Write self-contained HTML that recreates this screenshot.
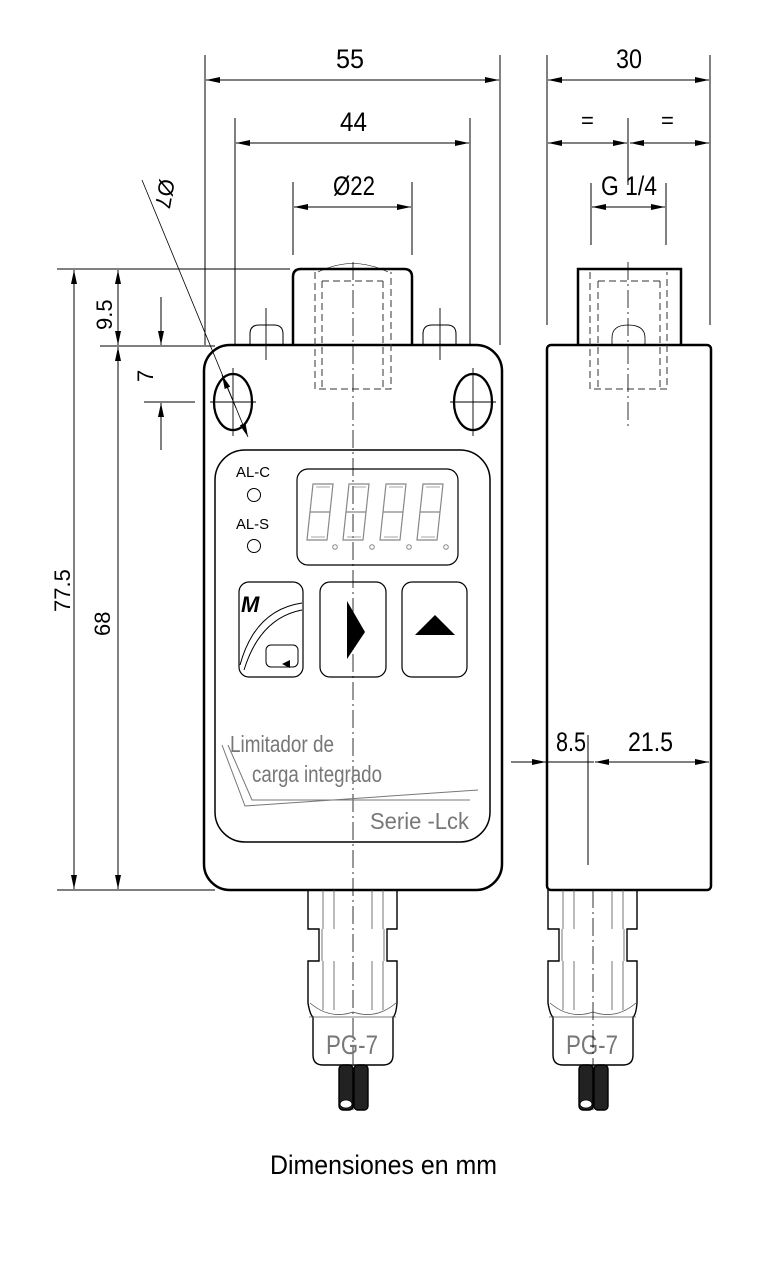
<!DOCTYPE html>
<html><head><meta charset="utf-8"><style>
html,body{margin:0;padding:0;background:#fff}
svg{display:block}
text{font-family:"Liberation Sans",sans-serif}
</style></head><body>
<svg width="768" height="1273" viewBox="0 0 768 1273" xmlns="http://www.w3.org/2000/svg">
<defs>
<marker id="a" viewBox="0 0 14 6" refX="14" refY="3" markerWidth="14" markerHeight="6" markerUnits="userSpaceOnUse" orient="auto-start-reverse"><path d="M0,0 L14,3 L0,6 Z" fill="#000"/></marker>
</defs>
<g fill="none" stroke="#000" stroke-width="1">
<line x1="205" y1="55" x2="205" y2="345"/><line x1="500" y1="55" x2="500" y2="345"/>
<line x1="206" y1="80" x2="499" y2="80" marker-start="url(#a)" marker-end="url(#a)"/>
<line x1="235" y1="118" x2="235" y2="345"/><line x1="470" y1="118" x2="470" y2="345"/>
<line x1="236" y1="143" x2="469" y2="143" marker-start="url(#a)" marker-end="url(#a)"/>
<line x1="293" y1="182" x2="293" y2="255"/><line x1="412" y1="182" x2="412" y2="255"/>
<line x1="294" y1="207" x2="411" y2="207" marker-start="url(#a)" marker-end="url(#a)"/>
<line x1="547" y1="55" x2="547" y2="325"/><line x1="710" y1="55" x2="710" y2="325"/>
<line x1="548" y1="80" x2="709" y2="80" marker-start="url(#a)" marker-end="url(#a)"/>
<line x1="548" y1="143" x2="627" y2="143" marker-start="url(#a)" marker-end="url(#a)"/>
<line x1="630" y1="143" x2="709" y2="143" marker-start="url(#a)" marker-end="url(#a)"/>
<line x1="628" y1="118" x2="628" y2="185"/>
<line x1="591" y1="183" x2="591" y2="245"/><line x1="666" y1="183" x2="666" y2="245"/>
<line x1="592" y1="207" x2="665" y2="207" marker-start="url(#a)" marker-end="url(#a)"/>
<line x1="57" y1="269" x2="290" y2="269"/>
<line x1="57" y1="890" x2="215" y2="890"/>
<line x1="74" y1="270" x2="74" y2="889" marker-start="url(#a)" marker-end="url(#a)"/>
<line x1="118" y1="270" x2="118" y2="345" marker-start="url(#a)" marker-end="url(#a)"/>
<line x1="118" y1="347" x2="118" y2="889" marker-start="url(#a)" marker-end="url(#a)"/>
<line x1="100" y1="346" x2="215" y2="346"/>
<line x1="144" y1="402" x2="195" y2="402"/>
<line x1="161" y1="297" x2="161" y2="345" marker-end="url(#a)"/>
<line x1="161" y1="450" x2="161" y2="403" marker-end="url(#a)"/>
<line x1="142" y1="180" x2="248" y2="437" stroke-width="0.8" marker-end="url(#a)"/>
<line x1="236" y1="408" x2="222" y2="375" stroke-width="0.8" marker-end="url(#a)"/>
<line x1="511" y1="762" x2="546" y2="762" marker-end="url(#a)"/>
<line x1="595" y1="762" x2="709" y2="762" marker-start="url(#a)" marker-end="url(#a)"/>
<line x1="548" y1="762" x2="594" y2="762"/>
<line x1="588" y1="735" x2="588" y2="865"/>
</g>
<g fill="none" stroke="#000">
<path d="M293,345 V277 Q293,269 301,269 H404 Q412,269 412,277 V345" stroke-width="2.5"/>
<path d="M250,345 V334 Q250,325 259,325 H274 Q283,325 283,334 V345" stroke-width="1"/>
<path d="M423,345 V334 Q423,325 432,325 H447 Q456,325 456,334 V345" stroke-width="1"/>
<rect x="204" y="345" width="298" height="545" rx="26" stroke-width="2.5"/>
<g stroke-dasharray="7,4" stroke-width="1" stroke="#333">
<path d="M315,272 V389 H391 V272"/><path d="M322,281 V389 M383,281 V389 M322,281 H383"/>
</g>
<path d="M318,272 Q353,255 388,272" stroke-width="0.6"/>
<ellipse cx="233" cy="402" rx="19" ry="28" stroke-width="2.3"/>
<ellipse cx="473" cy="402" rx="19" ry="28" stroke-width="2.3"/>
<g stroke-width="0.9"><line x1="210" y1="402" x2="256" y2="402"/><line x1="233" y1="368" x2="233" y2="436"/><line x1="450" y1="402" x2="496" y2="402"/><line x1="473" y1="368" x2="473" y2="436"/>
<line x1="266" y1="308" x2="266" y2="360"/><line x1="440" y1="308" x2="440" y2="360"/></g>
<line x1="353" y1="262" x2="353" y2="1110" stroke-width="0.8" stroke-dasharray="18,4,2,4"/>
<rect x="215" y="450" width="275" height="392" rx="30" stroke-width="1.5"/>
<rect x="297" y="469" width="161" height="96" rx="11" stroke-width="1.2"/>
<rect x="239" y="582" width="64" height="95" rx="10" stroke-width="1.2"/>
<rect x="320" y="582" width="66" height="95" rx="10" stroke-width="1.2"/>
<rect x="402" y="582" width="65" height="95" rx="10" stroke-width="1.2"/>
<circle cx="254" cy="495" r="6.5" stroke-width="1"/>
<circle cx="254" cy="546" r="6.5" stroke-width="1"/>
<path d="M240,665 Q255,610 302,603" stroke-width="1"/><path d="M244,670 Q260,618 302,610" stroke-width="1"/>
<rect x="266" y="645" width="32" height="22" rx="5" stroke-width="1"/>
<path d="M222,745 L245,806 L478,790 M228,745 L252,800 L470,800" stroke="#777" stroke-width="1"/>
</g>
<g fill="none" stroke="#888" stroke-width="1.2">
<g id="dg"><path d="M313,484 h20 l-3,28 h-20 z M310,512 h20 l-3,28 h-20 z"/><path d="M316,487 h14 M311,537 h14" stroke-width="0.7"/></g>
<use href="#dg" x="36"/><use href="#dg" x="73"/><use href="#dg" x="110"/>
</g>
<g fill="none" stroke="#888"><circle cx="335" cy="547" r="2.3"/><circle cx="372" cy="547" r="2.3"/><circle cx="409" cy="547" r="2.3"/><circle cx="446" cy="547" r="2.3"/></g>
<path d="M347,601 L365,632 L347,659 Z" fill="#000"/>
<path d="M415,635 L435,615 L455,635 Z" fill="#000"/>
<path d="M282,664 l8,-4 v8 z" fill="#000"/>
<g fill="none" stroke="#000">
<path d="M578,345 V269 H681 V345" stroke-width="2.5"/>
<rect x="547" y="345" width="164" height="545" rx="4" stroke-width="2.5"/>
<g stroke-dasharray="7,4" stroke-width="1" stroke="#333"><path d="M590,272 V389 H667 V272"/><path d="M598,281 V389 M660,281 V389 M598,281 H660"/></g>
<path d="M612,345 V338 Q612,325 628,325 Q645,325 645,338 V345" stroke-width="0.8"/>
<line x1="628" y1="262" x2="628" y2="430" stroke-width="0.8" stroke-dasharray="18,4,2,4"/>
</g>
<g id="gl" fill="none" stroke="#000" stroke-width="1.4">
<path d="M308,890 V929 H319 V961 H308 V1003 Q310,1015 313,1017 V1055 Q313,1065 323,1065 H383 Q393,1065 393,1055 V1017 Q396,1015 397,1003 V961 H387 V929 H397 V890"/>
<g stroke="#555" stroke-width="0.8"><path d="M323,890 V929 M334,890 V929 M372,890 V929 M383,890 V929 M323,961 V1010 M334,961 V1010 M372,961 V1010 M383,961 V1010 M309,1017 H396 M322,961 V929 M384,961 V929"/>
<path d="M310,1003 Q330,1020 353,1012 Q376,1020 396,1003"/></g>
<rect x="339" y="1065" width="14" height="45" rx="4" fill="#222"/><rect x="354" y="1065" width="14" height="45" rx="4" fill="#222"/>
<ellipse cx="346" cy="1104" rx="6" ry="4" fill="#fff" stroke-width="0.8"/>
<text x="326" y="1054" font-size="27" fill="#777" stroke="none" textLength="52" lengthAdjust="spacingAndGlyphs">PG-7</text>
</g>
<use href="#gl" x="240"/>
<line x1="593" y1="890" x2="593" y2="1110" stroke="#000" stroke-width="0.8" stroke-dasharray="18,4,2,4"/>
<g fill="#000" font-size="27" lengthAdjust="spacingAndGlyphs">
<text x="336" y="68" textLength="28" lengthAdjust="spacingAndGlyphs">55</text>
<text x="340" y="131" textLength="27" lengthAdjust="spacingAndGlyphs">44</text>
<text x="333" y="195" textLength="42" lengthAdjust="spacingAndGlyphs">Ø22</text>
<text x="616" y="68" textLength="26" lengthAdjust="spacingAndGlyphs">30</text>
<text x="581" y="128" font-size="22">=</text><text x="661" y="128" font-size="22">=</text>
<text x="601" y="195" textLength="56" lengthAdjust="spacingAndGlyphs">G 1/4</text>
<text x="556" y="751" textLength="30" lengthAdjust="spacingAndGlyphs">8.5</text>
<text x="628" y="751" textLength="45" lengthAdjust="spacingAndGlyphs">21.5</text>
<text x="270" y="1174" textLength="227" lengthAdjust="spacingAndGlyphs">Dimensiones en mm</text>
<text transform="translate(70,612) rotate(-90)" font-size="22">77.5</text>
<text transform="translate(110,636) rotate(-90)" font-size="22">68</text>
<text transform="translate(112,330) rotate(-90)" font-size="22">9.5</text>
<text transform="translate(153,382) rotate(-90)" font-size="22">7</text>
<text transform="translate(160,178) rotate(100)" font-size="22">Ø7</text>
</g>
<g font-size="15" fill="#000"><text x="236" y="477" textLength="34" lengthAdjust="spacingAndGlyphs">AL-C</text><text x="236" y="529" textLength="33" lengthAdjust="spacingAndGlyphs">AL-S</text></g>
<text x="241" y="612" font-size="22" font-weight="bold" font-style="italic">M</text>
<g fill="#777" font-size="23"><text x="230" y="752" textLength="104" lengthAdjust="spacingAndGlyphs">Limitador de</text><text x="252" y="782" textLength="130" lengthAdjust="spacingAndGlyphs">carga integrado</text><text x="370" y="829" textLength="99" lengthAdjust="spacingAndGlyphs">Serie -Lck</text></g>
</svg>
</body></html>
